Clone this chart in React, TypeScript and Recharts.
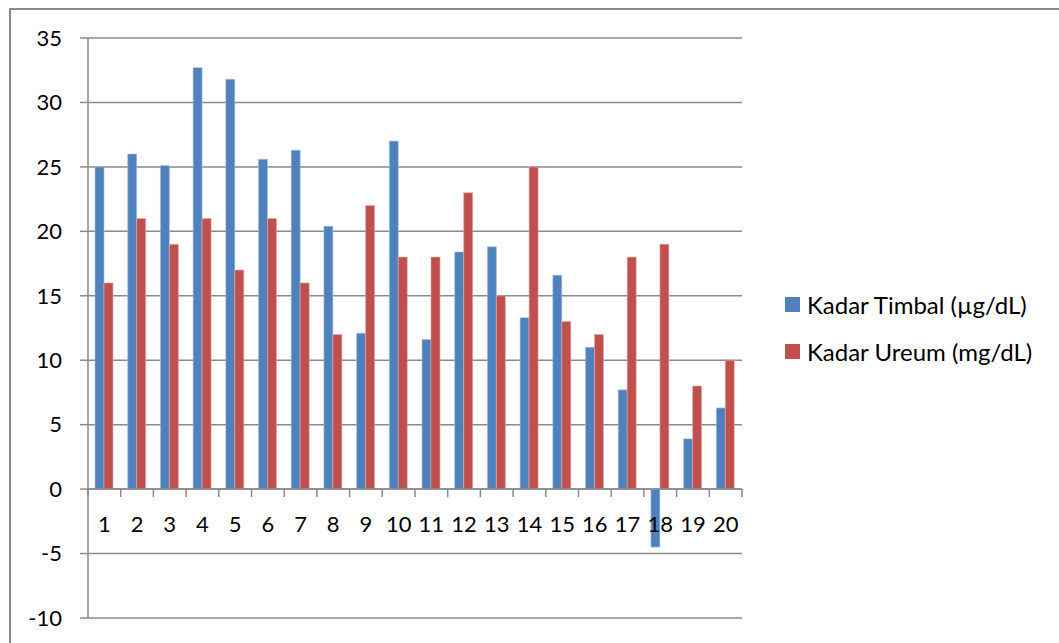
import React from "react";
import {
  BarChart,
  Bar,
  XAxis,
  YAxis,
  CartesianGrid,
  ReferenceLine,
} from "recharts";

const categories = ["1", "2", "3", "4", "5", "6", "7", "8", "9", "10", "11", "12", "13", "14", "15", "16", "17", "18", "19", "20"];
const timbal = [25, 26, 25.1, 32.7, 31.8, 25.6, 26.3, 20.4, 12.1, 27, 11.6, 18.4, 18.8, 13.3, 16.6, 11, 7.7, -4.5, 3.9, 6.3];
const ureum = [16, 21, 19, 21, 17, 21, 16, 12, 22, 18, 18, 23, 15, 25, 13, 12, 18, 19, 8, 10];
const yTicks = [-10, -5, 0, 5, 10, 15, 20, 25, 30, 35];

const BLUE = "#4F81BD";
const RED = "#C0504D";
const GRID = "#8a8a8a";
const FONT = "Lato, 'Open Sans', sans-serif";

const data = categories.map((c, i) => ({ name: c, timbal: timbal[i], ureum: ureum[i] }));

const series = [
  { key: "timbal", label: "Kadar Timbal (µg/dL)", color: BLUE },
  { key: "ureum", label: "Kadar Ureum (mg/dL)", color: RED },
];

// axis line drawn at zero, with category ticks and labels below it
function ZeroAxis(props: any) {
  const { x1, y1, x2 } = props;
  const step = (x2 - x1) / categories.length;
  return (
    <g>
      <line x1={x1} y1={y1} x2={x2} y2={y1} stroke={GRID} strokeWidth={1.5} />
      {categories.map((_, i) => (
        <line key={"t" + i} x1={x1 + i * step} x2={x1 + i * step} y1={y1} y2={y1 + 8} stroke={GRID} strokeWidth={1.5} />
      ))}
      <line x1={x2} x2={x2} y1={y1} y2={y1 + 8} stroke={GRID} strokeWidth={1.5} />
      {categories.map((c, i) => (
        <text
          key={"l" + i}
          x={x1 + (i + 0.5) * step}
          y={y1 + 35}
          dy="0.355em"
          textAnchor="middle"
          fontSize={22}
          fontFamily={FONT}
          fill="#000"
        >
          {c}
        </text>
      ))}
    </g>
  );
}

function LegendBox() {
  return (
    <div style={{ position: "absolute", left: 785, top: 281, fontFamily: FONT, fontSize: 24, color: "#000" }}>
      {series.map((s) => (
        <div key={s.key} style={{ display: "flex", alignItems: "center", height: 47, whiteSpace: "nowrap" }}>
          <span style={{ width: 15, height: 15, background: s.color, display: "inline-block", marginRight: 7 }} />
          <span>{s.label}</span>
        </div>
      ))}
    </div>
  );
}

export default function App() {
  return (
    <div style={{ position: "absolute", left: 0, top: 0, width: 1059, height: 643, background: "#fff", overflow: "hidden" }}>
      <div
        style={{
          position: "absolute",
          left: 9,
          top: 8,
          width: 1100,
          height: 700,
          borderLeft: `2px solid ${GRID}`,
          borderTop: `2px solid ${GRID}`,
        }}
      />
      <div style={{ position: "absolute", left: 0, top: 0 }}>
        <BarChart
          width={1059}
          height={643}
          data={data}
          margin={{ top: 38, right: 317, bottom: 25, left: 0 }}
          barCategoryGap="21.4%"
          barGap={0}
        >
          <CartesianGrid vertical={false} stroke={GRID} strokeWidth={1.5} />
          <XAxis dataKey="name" hide />
          <YAxis
            width={88}
            domain={[-10, 35]}
            ticks={yTicks}
            interval={0}
            tickSize={8}
            tickMargin={18}
            axisLine={{ stroke: GRID, strokeWidth: 1.5 }}
            tickLine={{ stroke: GRID, strokeWidth: 1.5 }}
            tick={{ fill: "#000", fontSize: 22, fontFamily: FONT }}
          />
          <Bar dataKey="timbal" fill={BLUE} stroke="#a9c1e0" strokeWidth={0.6} isAnimationActive={false} />
          <Bar dataKey="ureum" fill={RED} stroke="#e2a9a8" strokeWidth={0.6} isAnimationActive={false} />
          <ReferenceLine y={0} shape={ZeroAxis} />
        </BarChart>
      </div>
      <LegendBox />
    </div>
  );
}
